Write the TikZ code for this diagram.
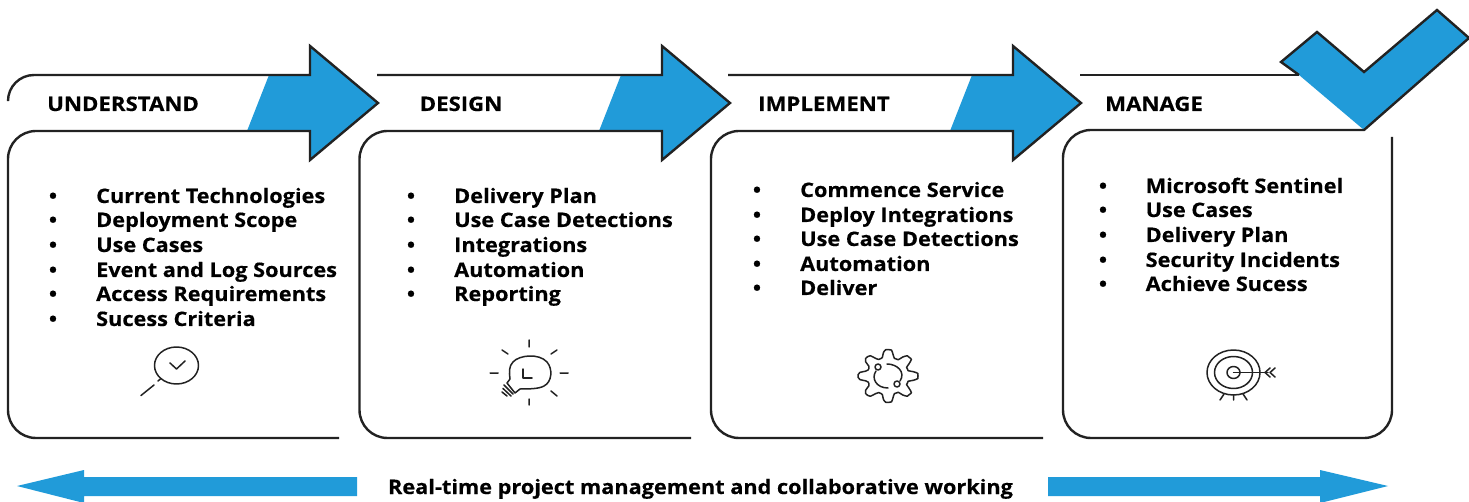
\documentclass[tikz,border=0pt]{standalone}
\usepackage{fontspec}
\setmainfont{Open Sans}
\newfontfamily\headfont{Open Sans}[BoldFeatures={FakeStretch=1.11,FakeBold=0.35}]
\newfontfamily\itemfont{Open Sans}[BoldFeatures={FakeStretch=1.085,FakeBold=0.35}]
\definecolor{cblue}{HTML}{219BD9}
\definecolor{cline}{HTML}{222222}
\tikzset{
  x=1pt,y=-1pt,
  outline/.style={draw=cline,line width=2.4pt,line join=miter},
  icon/.style={draw=cline,line width=1.5pt,line cap=round,line join=round},
  heading/.style={anchor=base west,inner sep=0pt,font=\headfont\fontsize{20}{20}\selectfont\bfseries,text=black},
  item/.style={anchor=base west,inner sep=0pt,font=\itemfont\fontsize{20}{20}\selectfont\bfseries,text=black},
  bul/.style={anchor=base,inner sep=0pt,font=\itemfont\fontsize{20}{20}\selectfont\bfseries,text=black},
}
\begin{document}
\begin{tikzpicture}
\useasboundingbox (0,0) rectangle (1469,502);
% blue fills
\foreach \d in {0,352,703}{
  \fill[cblue] (269+\d,75) -- (310+\d,75) -- (310+\d,46) -- (378+\d,103) -- (310+\d,160) -- (310+\d,131) -- (247+\d,131) -- cycle;
}
\fill[cblue] (1299,75) -- (1281,62) -- (1317,32) -- (1364,72) -- (1437,10) -- (1469,38) -- (1364,130) -- cycle;
% panel 1
\draw[outline] (8,99) [rounded corners=26pt] -- (8,75) -- (120,75) [sharp corners] -- (310,75) -- (310,46) -- (378,103) -- (310,160) -- (310,131) -- (120,131) [rounded corners=28pt] -- (8,131) -- (8,438) -- (120,438) [sharp corners] -- (339,438);
% panel 2
\draw[outline] (377,75) -- (662,75) -- (662,46) -- (730,103) -- (662,160) -- (662,131) -- (470,131) [rounded corners=28pt] -- (359.5,131) -- (359.5,438) -- (470,438) [sharp corners] -- (691,438);
% panel 3
\draw[outline] (728,75) -- (1013,75) -- (1013,46) -- (1081,103) -- (1013,160) -- (1013,131) -- (820,131) [rounded corners=28pt] -- (711,131) -- (711,438) -- (820,438) [sharp corners] -- (1043,438);
% panel 4
\draw[outline] (1080,75) -- (1299,75);
\draw[outline] (1299,75) -- (1281,62) -- (1317,32) -- (1364,72) -- (1437,10) -- (1469,38) -- (1364,130) -- (1180,130) [rounded corners=28pt] -- (1063,130) -- (1063,438) -- (1392,438) -- (1392,300) [sharp corners] -- (1392,137);
% bottom arrows
\fill[cblue] (357,477) -- (84,477) -- (84,470) -- (17,486) -- (84,503) -- (84,496) -- (357,496) -- cycle;
\fill[cblue] (1048,477) -- (1320,477) -- (1320,470) -- (1388,486) -- (1320,503) -- (1320,496) -- (1048,496) -- cycle;
% headings
\node[heading] (h1) at (47,111) {UNDERSTAND};
\node[heading] (h2) at (419.5,111) {DESIGN};
\node[heading] (h3) at (758,111) {IMPLEMENT};
\node[heading] (h4) at (1105,111) {MANAGE};
% lists
\foreach \y/\t [count=\i] in {203/Current Technologies,227/Deployment Scope,252/Use Cases,277/Event and Log Sources,301/Access Requirements,326/Sucess Criteria}{
  \node[bul] (ab\i) at (53,\y) {•};
  \node[item] (a\i) at (96,\y) {\t};
}
\foreach \y/\t [count=\i] in {203/Delivery Plan,227/Use Case Detections,252/Integrations,277/Automation,301/Reporting}{
  \node[bul] (bb\i) at (411,\y) {•};
  \node[item] (b\i) at (454,\y) {\t};
}
\foreach \y/\t [count=\i] in {197/Commence Service,222/Deploy Integrations,246/Use Case Detections,271/Automation,295/Deliver}{
  \node[bul] (cb\i) at (757,\y) {•};
  \node[item] (c\i) at (800,\y) {\t};
}
\foreach \y/\t [count=\i] in {193/Microsoft Sentinel,217/Use Cases,242/Delivery Plan,267/Security Incidents,291/Achieve Sucess}{
  \node[bul] (db\i) at (1103,\y) {•};
  \node[item] (d\i) at (1145.5,\y) {\t};
}
\node[item,anchor=base] (foot) at (700.5,494) {Real-time project management and collaborative working};
% magnifier icon
\draw[icon] (176.5,365.5) ellipse [x radius=22pt,y radius=18.5pt];
\draw[icon] (170,363) -- (176.5,369) -- (185,361);
\draw[icon] (141,395.5) -- (154,385);
\draw[icon] (158,381) -- (161,378.5);
% bulb icon
\draw[icon] (529,340) -- (529,347) (529,399) -- (529,405) (490,373) -- (498,373) (560,373) -- (568,373)
  (502,350) -- (508,354) (557,350) -- (551,354) (551,391) -- (557,396);
\draw[icon] (507,383) -- (510,379) .. controls (509,372) and (509,366) .. (513,362) .. controls (519,355) and (539,353) .. (547,362) .. controls (553,369) and (552,382) .. (544,386) .. controls (539,389) and (528,389) .. (520,389) -- (515,393) -- cycle;
\draw[icon] (523,369) -- (523,378) -- (532,378);
\draw[icon] (504,385) -- (513,394) (503,388.5) -- (511,396) (502,392) -- (507,396);
% gear icon
\draw[icon,shift={(888,376)},yscale=0.88] plot[smooth cycle,samples=65,domain=0:354.375] (\x:{25.5+4.5*max(-1,min(1,1.6*cos(8*\x)))});
\draw[icon] (876,371) .. controls (871,378) and (876,388) .. (888,388);
\draw[icon] (887,364) .. controls (897,364) and (906,372) .. (900,381);
\draw[icon] (878,367) circle [radius=3pt];
\draw[icon] (897,384) circle [radius=3pt];
% target icon
\draw[icon] (1233.5,372.5) ellipse [x radius=26.5pt,y radius=22.5pt];
\draw[icon] (1233.5,372.5) ellipse [x radius=19pt,y radius=16pt];
\draw[icon] (1233.5,372.5) ellipse [x radius=6.5pt,y radius=6pt];
\draw[icon] (1233.5,372.5) -- (1268,372.5);
\draw[icon] (1270,368) -- (1265,372.5) -- (1270,377);
\draw[icon] (1275,368) -- (1270,372.5) -- (1275,377);
\draw[icon] (1220,400) -- (1224,394) (1233.5,400) -- (1233.5,395) (1247,400) -- (1243,394);
\end{tikzpicture}
\end{document}
